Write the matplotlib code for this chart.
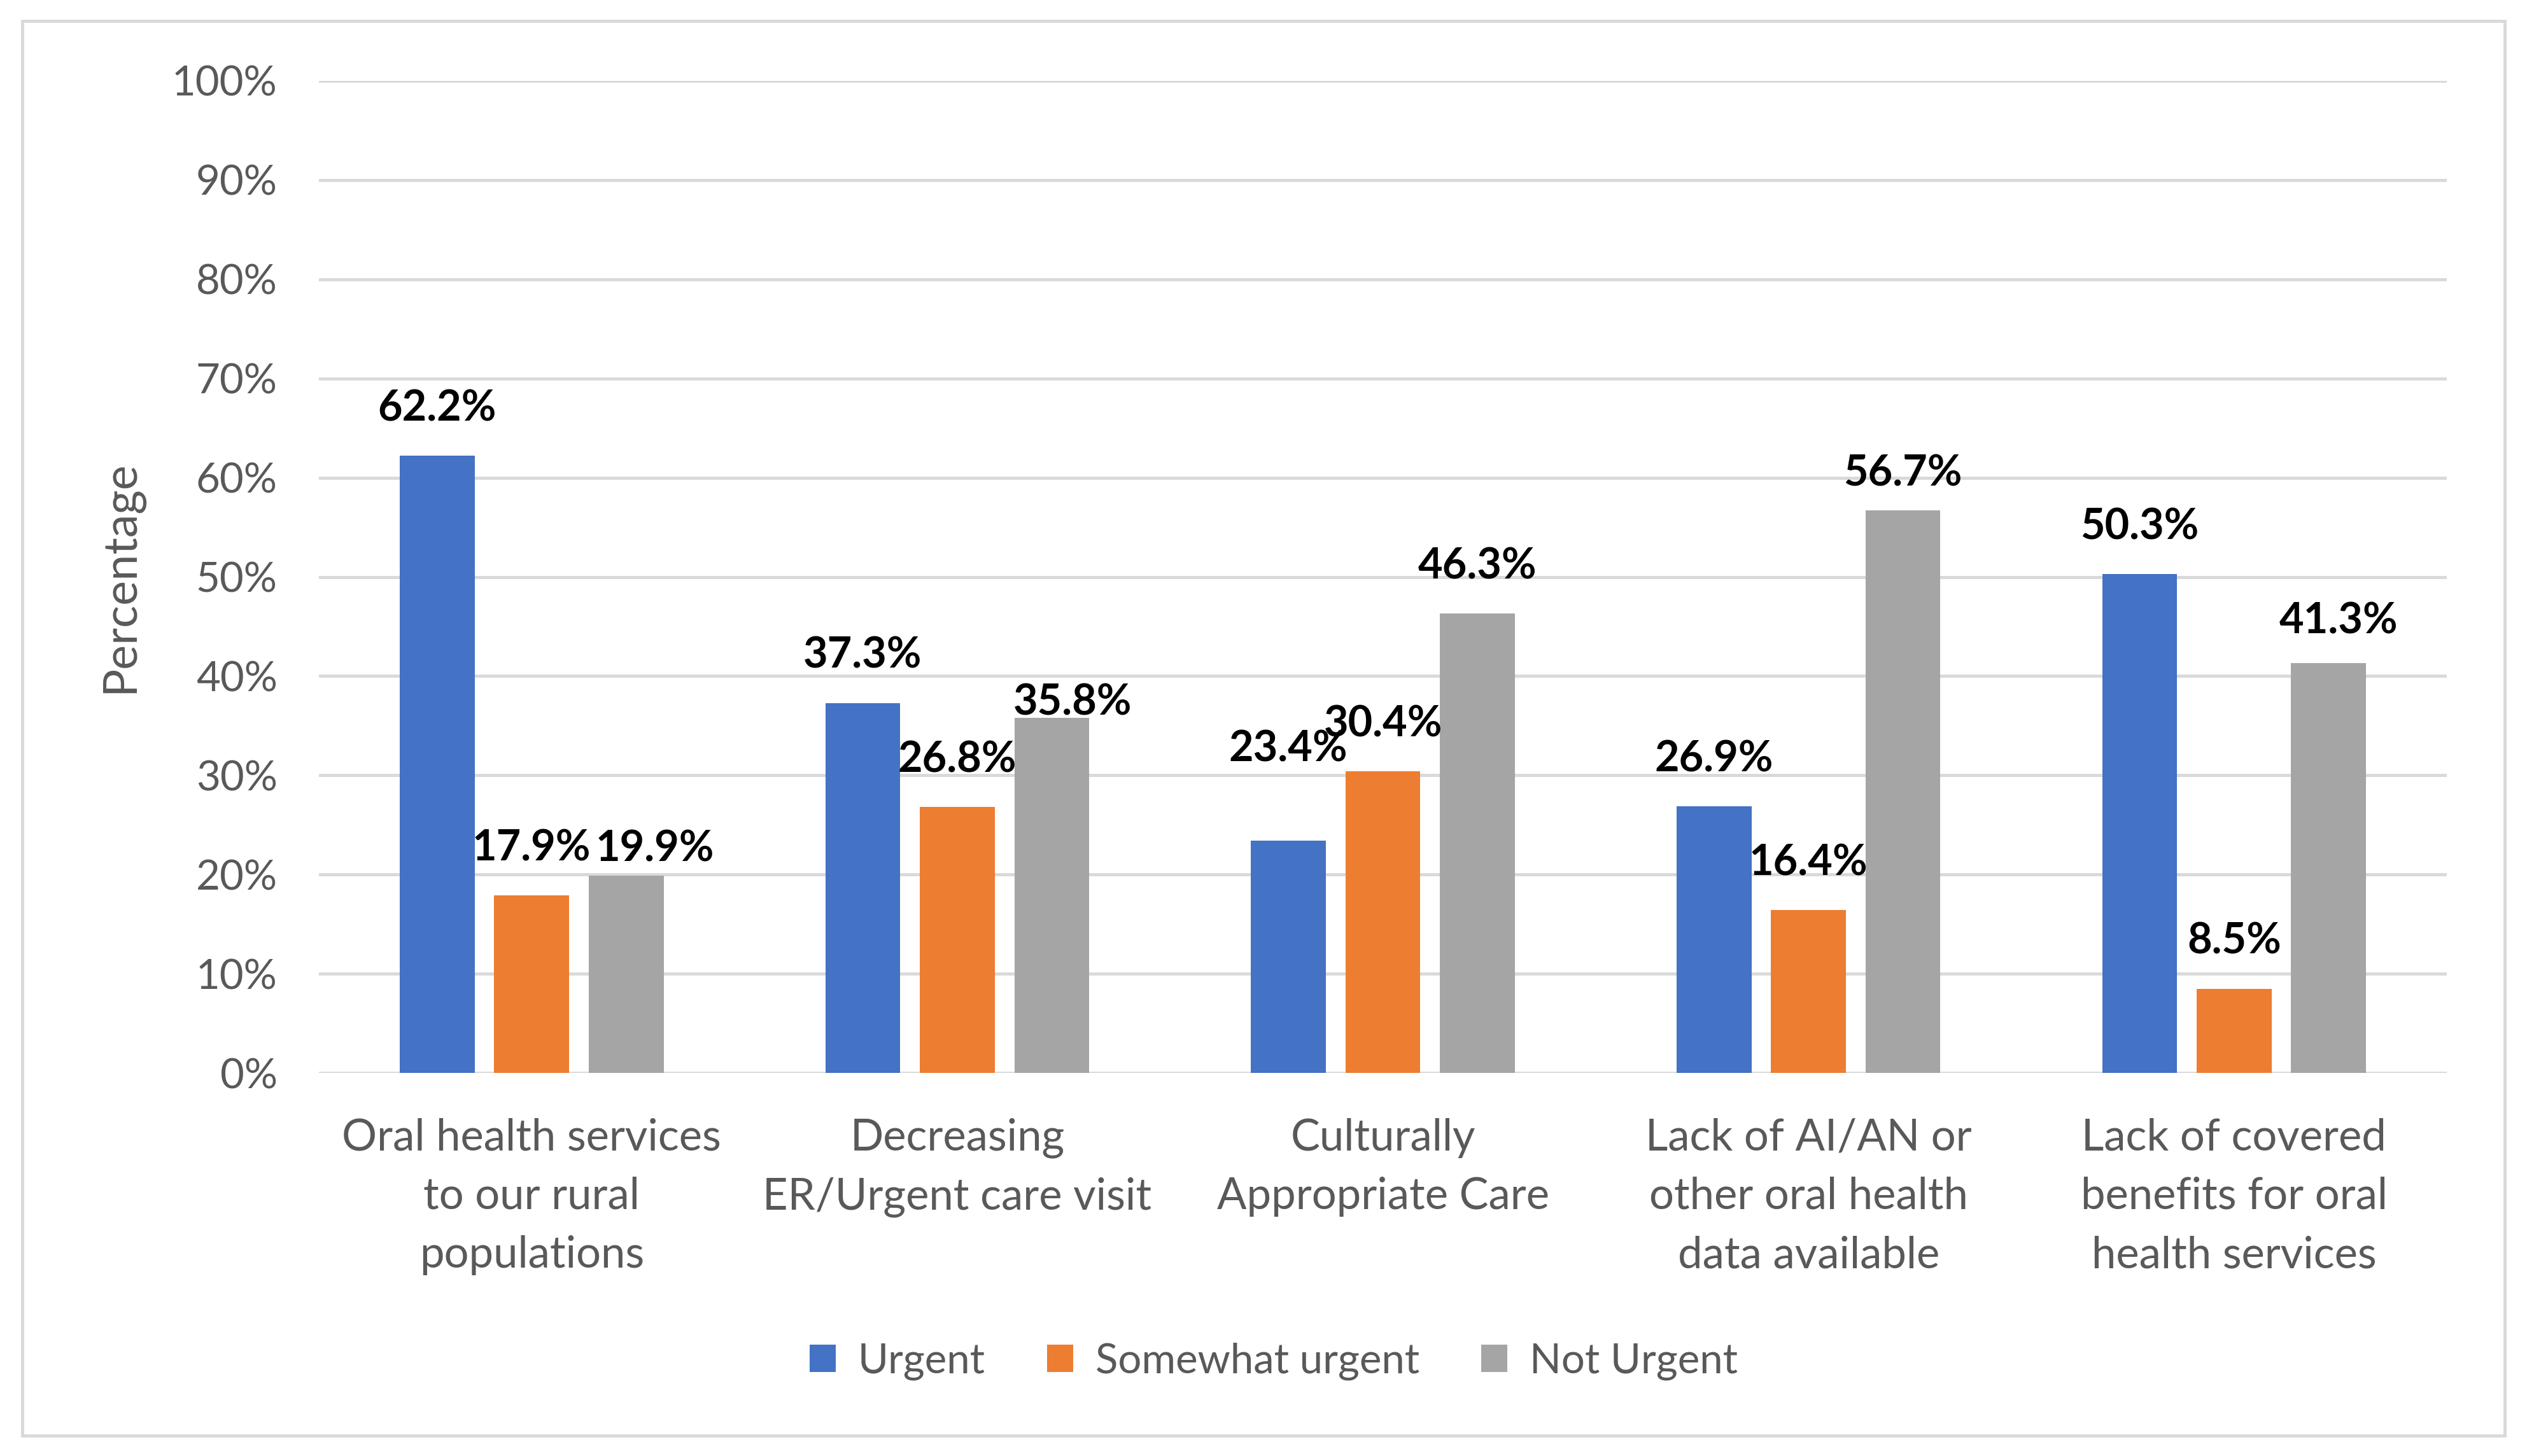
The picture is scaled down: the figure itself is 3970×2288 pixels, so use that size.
import matplotlib.pyplot as plt
import numpy as np
from matplotlib.patches import Rectangle

# Survey results: urgency of oral health issues
categories = [
    "Oral health services\nto our rural\npopulations",
    "Decreasing\nER/Urgent care visit",
    "Culturally\nAppropriate Care",
    "Lack of AI/AN or\nother oral health\ndata available",
    "Lack of covered\nbenefits for oral\nhealth services",
]
series_names = ["Urgent", "Somewhat urgent", "Not Urgent"]
urgent = [62.2, 37.3, 23.4, 26.9, 50.3]
somewhat_urgent = [17.9, 26.8, 30.4, 16.4, 8.5]
not_urgent = [19.9, 35.8, 46.3, 56.7, 41.3]
y_ticks = list(range(0, 101, 10))


def main():
    plt.rcParams['font.family'] = ['Lato', 'DejaVu Sans']
    text_color = '#595959'
    grid_color = '#D9D9D9'
    colors = ['#4472C4', '#ED7D31', '#A5A5A5']

    fig = plt.figure(figsize=(39.7, 22.88), dpi=100)
    ax = fig.add_axes([0.1262, 0.2631, 0.8421, 0.6814])

    x = np.arange(len(categories))
    width = 0.176
    step = 0.222
    all_series = [urgent, somewhat_urgent, not_urgent]

    # hand-placed labels in the original chart (series, category) -> (dx, dy)
    label_nudge = {
        (2, 0): (0.068, -2.1),
        (2, 1): (0.049, -3.2),
        (0, 2): (0.0, 4.5),
        (2, 3): (0.0, -1.0),
        (2, 4): (0.023, -0.5),
    }

    for i, (name, vals) in enumerate(zip(series_names, all_series)):
        pos = x + (i - 1) * step
        ax.bar(pos, vals, width=width, color=colors[i], label=name, zorder=3)
        for j, v in enumerate(vals):
            dx, dy = label_nudge.get((i, j), (0.0, 0.0))
            ax.text(pos[j] + dx, v + 3.5 + dy, f"{v:.1f}%", ha='center', va='baseline',
                    fontsize=48, fontweight='bold', color='black', zorder=4)

    ax.set_xlim(-0.5, len(categories) - 0.5)
    ax.set_ylim(0, 100)
    ax.set_yticks(y_ticks)
    ax.set_yticklabels([f"{t}%" for t in y_ticks])
    ax.set_xticks(x)
    ax.set_xticklabels(categories, linespacing=1.57)
    ax.tick_params(axis='both', length=0, labelcolor=text_color)
    ax.tick_params(axis='y', pad=47, labelsize=47)
    ax.tick_params(axis='x', pad=51, labelsize=49.5)

    ax.yaxis.grid(True, color=grid_color, linewidth=3.5, zorder=0)
    ax.set_axisbelow(True)
    for s in ax.spines.values():
        s.set_visible(False)

    ax.set_ylabel('Percentage', fontsize=53, color=text_color, labelpad=33)

    leg = fig.legend(loc='center', bbox_to_anchor=(0.504, 1 - 2139 / 2288), ncol=3,
                     frameon=False, fontsize=47, handlelength=0.63, handleheight=0.63,
                     handletextpad=0.54, columnspacing=1.48)
    for t in leg.get_texts():
        t.set_color(text_color)

    # chart border
    fig.patches.append(Rectangle((35 / 3970, 1 - 2256 / 2288), (3935 - 35) / 3970,
                                 (2256 - 33) / 2288, transform=fig.transFigure,
                                 fill=False, edgecolor=grid_color, linewidth=3.5))

    fig.savefig('out.png', dpi=100)


if __name__ == "__main__":
    main()
